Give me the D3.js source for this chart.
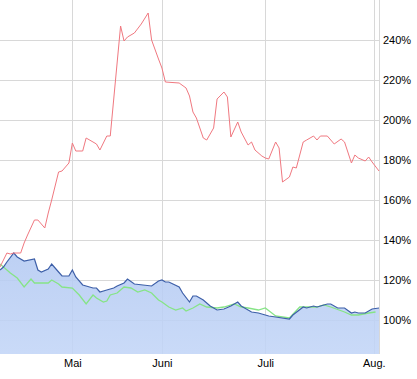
<!DOCTYPE html>
<html>
<head>
<meta charset="utf-8">
<script src="https://cdn.jsdelivr.net/npm/d3@7"></script>
<style>
  body { margin: 0; background: #fff; }
  .tick text { font-family: "Liberation Sans", Arial, sans-serif; font-size: 11px; fill: #000; }
</style>
</head>
<body>
<script>
// trading-day index and percentage values
const redDays = [0,2,3,4,6,7,8,10,11,13,14,15,17,18,20,21,22,24,25,28,29,31,32,35,36,37,39,41,43,44,46,47,48,52,54,55,56,57,59,60,62,63,65,66,67,69,70,72,73,74,76,77,78,80,81,82,84,85,86,88,89,91,92,93,95,97,99,100,102,103,104,106,107,108,110];
const redVals = [126.5,133.5,133,133.5,133.5,138.5,142.5,150,150,146,153.5,160,174,174.5,178.5,188.5,184.5,184.5,191,188,185,192,192,247,239.5,241.5,243.5,248,253.5,240,230.5,226,219,218.5,216,212,204,201,191,190,196,210.5,214,211.5,191.5,199,194,187.5,189,185,182,181,180.5,189,186,169,171.5,176.5,176,189,190,192,190,192,192,188,190.5,189,178.5,182.5,181,179.5,181.5,179,174.5];

const blueDays = [0,1,2,4,5,7,10,11,12,14,15,17,18,20,21,22,24,26,27,28,29,31,33,34,36,37,39,44,46,47,48,49,52,53,55,56,57,59,61,63,65,67,69,70,71,73,75,78,80,84,85,88,89,91,92,93,95,96,98,100,102,103,104,106,108,110];
const blueVals = [125,126.5,129,133.5,131.5,129.5,130.5,125,124,125.5,128,124,122,122,125,121.5,117.5,116.5,116,116,114,115,116,117,118.5,120.5,118,117,119.5,120,119,119,116.5,113.5,109,112,112,110,107,105,105.5,107,109,107,106,104,103.5,102,101.5,100.5,102.5,106.5,106,107,106.5,107,108,108,106,106,103.5,104,103.5,103.5,105.5,106];

const greenDays = [0,3,5,7,9,10,14,15,17,18,21,23,25,27,28,30,31,32,34,36,38,40,42,44,46,47,49,51,53,54,56,58,60,63,65,68,70,72,75,77,80,84,87,89,92,94,96,100,102,104,107,109];
const greenVals = [128,123.5,121,116.5,120.5,118.5,118.5,120,118,116.5,116,112.5,108,112.5,111,109,109.5,112.5,113.5,116.5,116,114,115,113.5,110,109,106.5,105,106,104.5,106,108,106.5,106,106.5,108,106.5,106,105,106,102,101,106.5,106.5,106.5,107.5,106.5,104,102.5,102.5,103.5,104];

const monthTicks = [21, 47, 77, 108.5];
const monthLabels = ["Mai", "Juni", "Juli", "Aug."];
const pctTicks = [100, 120, 140, 160, 180, 200, 220, 240];

const W = 417, H = 379;
const plot = { left: 0, right: 379, top: 0, bottom: 354 };

const svg = d3.select('body').append('svg')
  .attr('width', W)
  .attr('height', H);

const x = d3.scaleLinear().domain([0, 110]).range([plot.left, plot.right]);
const y = d3.scaleLinear().domain([83, 260]).range([plot.bottom, plot.top]);

const zip = (days, vals) => days.map((d, i) => ({ d, v: vals[i] }));
const red = zip(redDays, redVals);
const blue = zip(blueDays, blueVals);
const green = zip(greenDays, greenVals);

// gridlines
svg.append('g')
  .selectAll('line')
  .data(pctTicks)
  .enter().append('line')
  .attr('x1', plot.left).attr('x2', plot.right)
  .attr('y1', d => Math.round(y(d)) + 0.5).attr('y2', d => Math.round(y(d)) + 0.5)
  .attr('stroke', '#d8d8d8');

svg.append('g')
  .selectAll('line')
  .data(monthTicks)
  .enter().append('line')
  .attr('x1', d => Math.round(x(d)) + 0.5).attr('x2', d => Math.round(x(d)) + 0.5)
  .attr('y1', plot.top).attr('y2', plot.bottom)
  .attr('stroke', '#d8d8d8');

svg.append('line')
  .attr('x1', plot.right + 0.5).attr('x2', plot.right + 0.5)
  .attr('y1', plot.top).attr('y2', plot.bottom)
  .attr('stroke', '#d8d8d8');

// area fill under the blue series
const defs = svg.append('defs');
const grad = defs.append('linearGradient')
  .attr('id', 'fillGrad')
  .attr('x1', 0).attr('y1', 0).attr('x2', 0).attr('y2', 1);
grad.append('stop').attr('offset', '0%').attr('stop-color', '#b4caf2');
grad.append('stop').attr('offset', '100%').attr('stop-color', '#c2d5f7');

const area = d3.area()
  .x(p => x(p.d))
  .y0(plot.bottom)
  .y1(p => y(p.v));

svg.append('path')
  .datum(blue)
  .attr('d', area)
  .attr('fill', 'url(#fillGrad)')
  .attr('fill-opacity', 0.88);

const line = d3.line()
  .x(p => x(p.d))
  .y(p => y(p.v));

svg.append('path')
  .datum(green)
  .attr('d', line)
  .attr('fill', 'none')
  .attr('stroke', '#86e486')
  .attr('stroke-width', 1.3);

svg.append('path')
  .datum(blue)
  .attr('d', line)
  .attr('fill', 'none')
  .attr('stroke', '#3d5fa8')
  .attr('stroke-width', 1.2);

svg.append('path')
  .datum(red)
  .attr('d', line)
  .attr('fill', 'none')
  .attr('stroke', '#f07880')
  .attr('stroke-width', 1);

// axes
const yAxis = d3.axisRight(y)
  .tickValues(pctTicks)
  .tickSize(0)
  .tickPadding(4)
  .tickFormat(d => d + '%');

svg.append('g')
  .attr('transform', `translate(${plot.right},0)`)
  .call(yAxis)
  .call(g => g.select('.domain').remove());

const xAxis = d3.axisBottom(x)
  .tickValues(monthTicks)
  .tickSize(0)
  .tickPadding(5)
  .tickFormat((d, i) => monthLabels[i]);

svg.append('g')
  .attr('transform', `translate(0,${plot.bottom})`)
  .call(xAxis)
  .call(g => g.select('.domain').remove());
</script>
</body>
</html>
